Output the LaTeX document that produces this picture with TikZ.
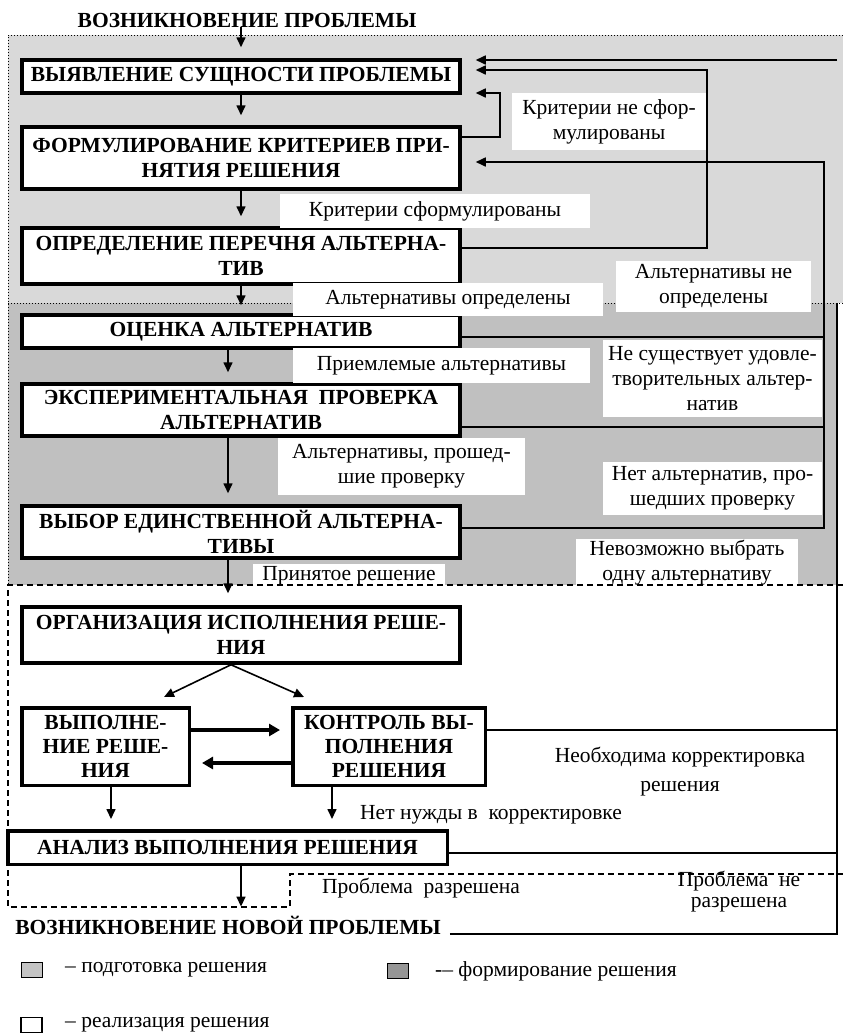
\documentclass[tikz,border=0pt]{standalone}
\usepackage{fontspec}
\setmainfont{Liberation Serif}
\usetikzlibrary{arrows.meta}

\definecolor{zoneA}{HTML}{D9D9D9}
\definecolor{zoneB}{HTML}{C0C0C0}
\definecolor{keyA}{HTML}{C4C4C4}
\definecolor{keyB}{HTML}{969696}

\begin{document}
\begin{tikzpicture}[x=1pt, y=-1pt,
	stage/.style={draw, line width=3.5pt, fill=white, align=center, inner sep=0pt,
		font=\fontsize{21.5}{25}\selectfont\bfseries},
	heading/.style={inner sep=0pt, font=\fontsize{21.5}{25}\selectfont\bfseries},
	note/.style={fill=white, align=center, inner sep=0pt, font=\fontsize{21.5}{25}\selectfont},
	link/.style={line width=1.6pt},
	flow/.style={link, -{Stealth[length=10pt, width=9pt, inset=0pt]}},
	bold flow/.style={line width=4pt, -{Stealth[length=11pt, width=12pt, inset=0pt]}},
	swatch/.style={draw, line width=1.2pt, minimum width=21pt, minimum height=15pt, inner sep=0pt}
]

\def\width{843}
\def\height{1034}

\path [use as bounding box] (0,0) rectangle (\width,\height);

% ZONES
\fill [zoneA] (8,35) rectangle (\width,303);
\fill [zoneB] (8,303) rectangle (837,585);
\draw [dotted, line width=1pt] (\width,35) -- (8,35) -- (8,585);
\draw [dotted, line width=1pt] (8,303) -- (\width,303);

% STAGES
\node [heading] (start) at (247,20) {ВОЗНИКНОВЕНИЕ ПРОБЛЕМЫ};
\node [stage, minimum width=438pt, minimum height=33pt] (sush) at (241,76.5) {ВЫЯВЛЕНИЕ СУЩНОСТИ ПРОБЛЕМЫ};
\node [stage, minimum width=438pt, minimum height=62pt] (krit) at (241,158) {ФОРМУЛИРОВАНИЕ КРИТЕРИЕВ ПРИ-\\НЯТИЯ РЕШЕНИЯ};
\node [stage, minimum width=438pt, minimum height=56pt] (perech) at (241,256) {ОПРЕДЕЛЕНИЕ ПЕРЕЧНЯ АЛЬТЕРНА-\\ТИВ};
\node [stage, minimum width=438pt, minimum height=33pt] (ocenka) at (241,331.5) {ОЦЕНКА АЛЬТЕРНАТИВ};
\node [stage, minimum width=438pt, minimum height=52pt] (proverka) at (241,410) {ЭКСПЕРИМЕНТАЛЬНАЯ~ ПРОВЕРКА\\АЛЬТЕРНАТИВ};
\node [stage, minimum width=438pt, minimum height=52pt] (vybor) at (241,532) {ВЫБОР ЕДИНСТВЕННОЙ АЛЬТЕРНА-\\ТИВЫ};
\node [stage, minimum width=438pt, minimum height=56pt] (organiz) at (241,635) {ОРГАНИЗАЦИЯ ИСПОЛНЕНИЯ РЕШЕ-\\НИЯ};
\node [stage, minimum width=167.5pt, minimum height=77.5pt, font=\fontsize{21.5}{24}\selectfont\bfseries] (vypoln) at (105.5,746.5) {ВЫПОЛНЕ-\\НИЕ РЕШЕ-\\НИЯ};
\node [stage, minimum width=192.5pt, minimum height=77.5pt, font=\fontsize{21.5}{24}\selectfont\bfseries] (kontrol) at (389,746.5) {КОНТРОЛЬ ВЫ-\\ПОЛНЕНИЯ\\РЕШЕНИЯ};
\node [stage, minimum width=439.5pt, minimum height=33.5pt] (analiz) at (227.5,847.5) {АНАЛИЗ ВЫПОЛНЕНИЯ РЕШЕНИЯ};
\node [heading] (finish) at (228,925) {ВОЗНИКНОВЕНИЕ НОВОЙ ПРОБЛЕМЫ};

% LABELS
\node [note, minimum width=194pt, minimum height=57pt] (critNot) at (609,121.5) {Критерии не сфор-\\мулированы};
\node [note, minimum width=310pt, minimum height=34pt] (critOk) at (435,211) {Критерии сформулированы};
\node [note, minimum width=195pt, minimum height=51pt] (altNot) at (713.5,286.5) {Альтернативы не\\определены};
\node [note, minimum width=310pt, minimum height=33pt] (altOk) at (448,299.5) {Альтернативы определены};
\node [note, minimum width=297pt, minimum height=35pt] (accept) at (441.5,365.5) {Приемлемые альтернативы};
\node [note, minimum width=219pt, minimum height=77pt] (noSat) at (712.5,378.5) {Не существует удовле-\\творительных альтер-\\натив};
\node [note, minimum width=247pt, minimum height=57pt] (passed) at (401.5,466.5) {Альтернативы, прошед-\\шие проверку};
\node [note, minimum width=219pt, minimum height=53pt] (noPassed) at (712.5,488.5) {Нет альтернатив, про-\\шедших проверку};
\node [note, minimum width=192pt, minimum height=24pt] (taken) at (349,576) {Принятое решение};
\node [note, minimum width=222pt, minimum height=48pt] (cannot) at (687,563) {Невозможно выбрать\\одну альтернативу};
\node [note, font=\fontsize{21.5}{29}\selectfont] (needCorr) at (680,772) {Необходима корректировка\\решения};
\node [note, anchor=west] (noNeed) at (360,815) {Нет нужды в~ корректировке};
\node [note] (solved) at (421,888) {Проблема~ разрешена};
\node [note, font=\fontsize{21.5}{21}\selectfont] (notSolved) at (739,892) {Проблема~ не\\разрешена};

% REALIZATION ZONE
\draw [dashed, line width=1.4pt, dash pattern=on 6pt off 4pt] (\width,585) -- (8,585) -- (8,907) -- (290,907) -- (290,874) -- (\width,874);

% MAIN FLOW
\draw [flow, shorten >=11pt] (sush.north |- start.south) -- (sush.north);
\draw [flow, shorten >=10pt] (sush) -- (krit);
\draw [flow, shorten >=10pt] (krit) -- (perech);
\draw [flow, shorten >=8pt] (perech) -- (ocenka);
\draw [flow, shorten >=10pt] ([xshift=-13pt]ocenka.south) -- ([xshift=-13pt]proverka.north);
\draw [flow, shorten >=11pt] ([xshift=-13pt]proverka.south) -- ([xshift=-13pt]vybor.north);
\draw [flow, shorten >=12pt] ([xshift=-13pt]vybor.south) -- ([xshift=-13pt]organiz.north);
\draw [flow] ([xshift=-10pt]organiz.south) -- ([xshift=58.5pt, yshift=9pt]vypoln.north);
\draw [flow] ([xshift=-10pt]organiz.south) -- ([xshift=-85pt, yshift=9pt]kontrol.north);
\draw [bold flow, shorten >=11pt] ([yshift=16.5pt]vypoln.east) -- ([yshift=16.5pt]kontrol.west);
\draw [bold flow, shorten >=11pt] ([yshift=-16.5pt]kontrol.west) -- ([yshift=-16.5pt]vypoln.east);
\draw [flow, shorten >=10pt] ([xshift=5.5pt]vypoln.south) -- ([xshift=5.5pt]vypoln.south |- analiz.north);
\draw [flow, shorten >=10pt] ([xshift=-57pt]kontrol.south) -- ([xshift=-57pt]kontrol.south |- analiz.north);
\draw [flow, shorten >=9pt] ([xshift=13.5pt]analiz.south) -- ([xshift=13.5pt]analiz.south |- finish.north);

% FEEDBACK
\coordinate (edge) at (837,60);
\coordinate (loopTop) at (837,303);
\draw [flow, shorten >=14pt] (edge) -- (edge -| sush.east);
\draw [flow, shorten >=14pt] ([yshift=21pt]krit.east) -- ++(38,0) |- ([yshift=-16.5pt]sush.east);
\draw [flow, shorten >=14pt] ([yshift=8pt]perech.east) -- ++(245,0) |- ([yshift=6.5pt]sush.east);
\draw [flow, shorten >=14pt] ([yshift=4pt]vybor.east) -- ++(362,0) |- ([yshift=-4pt]krit.east);
\draw [link] ([yshift=-5.5pt]ocenka.east) -- ++(362,0);
\draw [link] ([yshift=-17pt]proverka.east) -- ++(362,0);
\draw [link] ([xshift=9pt]finish.base east) -| (loopTop);
\draw [link] ([yshift=16.5pt]kontrol.east) -- ++(350,0);
\draw [link] ([yshift=-5.5pt]analiz.east) -- ++(388,0);

% LEGEND
\node [swatch, fill=keyA] (keyA) at (32,970) {};
\node [note, anchor=west] (keyAtext) at (65,970) {– подготовка решения};
\node [swatch, fill=keyB] (keyB) at (398,971) {};
\node [note, anchor=west] (keyBtext) at (435,971) {-– формирование решения};
\node [swatch, fill=white] (keyC) at (31.5,1025) {};
\node [note, anchor=west] (keyCtext) at (65,1025) {– реализация решения};

\end{tikzpicture}
\end{document}
